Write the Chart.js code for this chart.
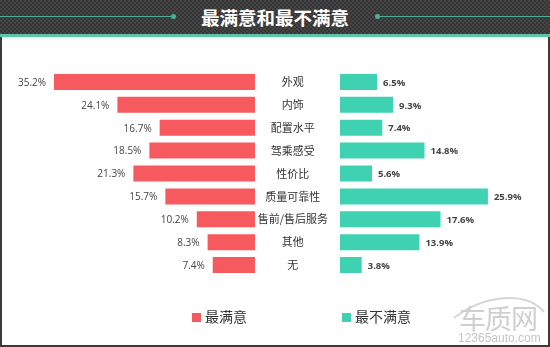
<!DOCTYPE html>
<html>
<head>
<meta charset="utf-8">
<script src="https://cdn.jsdelivr.net/npm/chart.js@4"></script>
<style>
  body { margin: 0; width: 550px; height: 347px; overflow: hidden; background: #fff; font-family: "Noto Sans CJK SC", sans-serif; }
  #page { position: relative; width: 550px; height: 347px; }
  canvas { position: absolute; left: 0; top: 0; }
  .header { position: absolute; left: 0; top: 0; width: 550px; height: 34px;
    background: repeating-conic-gradient(#353535 0 25%, #454545 0 50%) 0 0 / 4px 4px; }
  .header-line { position: absolute; left: 0; top: 34px; width: 550px; height: 3px; background: #5ec5aa; }
  .header-glow { position: absolute; left: 0; top: 37px; width: 550px; height: 3px; background: #eef8f5; }
  .title { position: absolute; left: 0; width: 550px; top: 5px; text-align: center; color: #fff;
    font-size: 18.5px; font-weight: bold; line-height: 24px; }
  .rule { position: absolute; top: 16px; height: 1px; background: #4fae95; }
  .dot { position: absolute; top: 14px; width: 5px; height: 5px; border-radius: 50%; background: #4fae95; }
  .frame { position: absolute; background: #3a3a3a; }
  .legend { position: absolute; top: 305px; font-size: 14px; color: #333; line-height: 22px; }
  .legend i { display: inline-block; width: 9px; height: 9px; margin-right: 4px; vertical-align: 0; }
  .mark { position: absolute; color: #cfcfcf; }
</style>
</head>
<body>
<div id="page">
  <div class="header"></div>
  <div class="header-line"></div>
  <div class="header-glow"></div>
  <div class="rule" style="left:0;width:174px"></div>
  <div class="dot" style="left:171px"></div>
  <div class="rule" style="left:377px;width:173px"></div>
  <div class="dot" style="left:375px"></div>
  <div class="title">最满意和最不满意</div>

  <div class="frame" style="left:0;top:37px;width:2px;height:310px"></div>
  <div class="frame" style="right:0;top:37px;width:2px;height:310px"></div>
  <div class="frame" style="left:0;top:345px;width:550px;height:2px"></div>

  <canvas id="bestChart" width="550" height="347"></canvas>
  <canvas id="worstChart" width="550" height="347"></canvas>

  <div class="legend" style="left:192px"><i style="background:#f65a5f"></i>最满意</div>
  <div class="legend" style="left:342px"><i style="background:#3ed2b2"></i>最不满意</div>

  <svg class="mark" style="left:450px;top:292px" width="98" height="30">
    <path d="M4 26 Q30 6 60 6 Q82 6 94 20" fill="none" stroke="#d6d6d6" stroke-width="2"/>
  </svg>
  <div class="mark" style="left:459px;top:303px;font-size:27px;line-height:30px;letter-spacing:-1px">车质网</div>
  <div class="mark" style="left:458px;top:331px;font-size:12px;line-height:14px;font-family:'Liberation Sans',sans-serif;color:#c4c4c4">12365auto.com</div>
</div>

<script>
const categories = ["外观", "内饰", "配置水平", "驾乘感受", "性价比", "质量可靠性", "售前/售后服务", "其他", "无"];
const bestShare = [35.2, 24.1, 16.7, 18.5, 21.3, 15.7, 10.2, 8.3, 7.4];
const worstShare = [6.5, 9.3, 7.4, 14.8, 5.6, 25.9, 17.6, 13.9, 3.8];

const RED = "#f65a5f";
const TEAL = "#3ed2b2";

// writes "xx.x%" next to the end of every bar
const valueLabels = {
  id: "valueLabels",
  afterDatasetsDraw(chart, args, opts) {
    const ctx = chart.ctx;
    const values = chart.data.datasets[0].data;
    ctx.save();
    ctx.font = opts.font;
    ctx.fillStyle = "#444";
    ctx.textBaseline = "middle";
    ctx.textAlign = opts.side === "left" ? "right" : "left";
    chart.getDatasetMeta(0).data.forEach((bar, i) => {
      const x = opts.side === "left" ? bar.x - opts.offset : bar.x + opts.offset;
      ctx.fillText(values[i].toFixed(1) + "%", x, bar.y + 1);
    });
    ctx.restore();
  },
};

const rowPadding = { top: 70.5, bottom: 70.5 };

// left side, bars grow leftwards
new Chart(document.querySelector("#bestChart"), {
  type: "bar",
  data: {
    labels: categories,
    datasets: [{ data: bestShare, backgroundColor: RED, barPercentage: 0.7, categoryPercentage: 1 }],
  },
  options: {
    indexAxis: "y",
    responsive: false,
    animation: false,
    layout: { padding: { left: 26.6, right: 295, top: rowPadding.top, bottom: rowPadding.bottom } },
    scales: {
      x: { display: false, reverse: true, min: 0, max: 40 },
      y: { display: false },
    },
    plugins: {
      legend: { display: false },
      tooltip: { enabled: false },
      valueLabels: { side: "left", offset: 8, font: "10px 'Open Sans', sans-serif" },
    },
  },
  plugins: [valueLabels],
});

// right side, carries the category names in its y axis
new Chart(document.querySelector("#worstChart"), {
  type: "bar",
  data: {
    labels: categories,
    datasets: [{ data: worstShare, backgroundColor: TEAL, barPercentage: 0.7, categoryPercentage: 1 }],
  },
  options: {
    indexAxis: "y",
    responsive: false,
    animation: false,
    layout: { padding: { left: 253, right: 4.4, top: rowPadding.top, bottom: rowPadding.bottom } },
    scales: {
      x: { display: false, min: 0, max: 36 },
      y: {
        grid: { display: false },
        border: { display: false },
        afterFit(scale) {
          scale.width = 87;
        },
        ticks: {
          crossAlign: "center",
          padding: 4,
          color: "#333",
          font: { family: "'Noto Sans CJK SC', sans-serif", size: 11 },
        },
      },
    },
    plugins: {
      legend: { display: false },
      tooltip: { enabled: false },
      valueLabels: { side: "right", offset: 6, font: "bold 9.5px 'Open Sans', sans-serif" },
    },
  },
  plugins: [valueLabels],
});
</script>
</body>
</html>
